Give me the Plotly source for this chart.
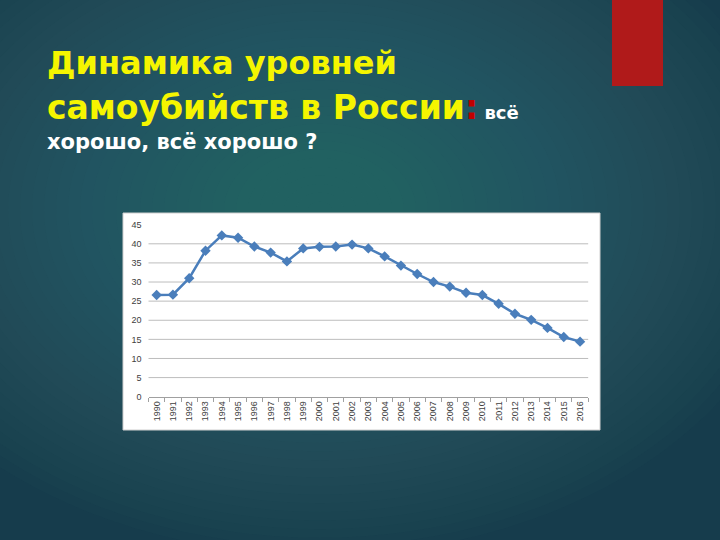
import plotly.graph_objects as go

years = [str(y) for y in range(1990, 2017)]
rates = [26.6, 26.7, 31.0, 38.2, 42.2, 41.6, 39.3, 37.7, 35.4, 38.8, 39.2, 39.3, 39.8,
         38.8, 36.7, 34.3, 32.1, 30.0, 28.8, 27.2, 26.6, 24.3, 21.7, 20.1, 18.0, 15.6, 14.4]
y_ticks = [0, 5, 10, 15, 20, 25, 30, 35, 40, 45]

W, H = 720, 540

def px(x):
    return x / W

def py(y):
    return 1 - y / H

fig = go.Figure()
fig.add_trace(go.Scatter(
    x=years, y=rates, mode="lines+markers",
    line=dict(color="#4a7ebb", width=2.5),
    marker=dict(symbol="diamond", size=8, color="#4a7ebb"),
    showlegend=False, hoverinfo="x+y",
))

shapes = []
# radial glow background
N = 40
cx, cy = 320, 210
for k in range(N, 0, -1):
    rx, ry = 480 * k / N, 345 * k / N
    shapes.append(dict(type="circle", xref="paper", yref="paper",
                       x0=px(cx - rx), x1=px(cx + rx), y0=py(cy + ry), y1=py(cy - ry),
                       fillcolor="rgb(55,138,115)", opacity=0.033, line=dict(width=0),
                       layer="below"))
# red block
shapes.append(dict(type="rect", xref="paper", yref="paper",
                   x0=px(612), x1=px(663), y0=py(86), y1=py(-2),
                   fillcolor="#b01a1a", line=dict(width=0), layer="below"))
# white chart panel
shapes.append(dict(type="rect", xref="paper", yref="paper",
                   x0=px(123), x1=px(600), y0=py(430), y1=py(213),
                   fillcolor="white", line=dict(color="#cfcfcf", width=1), layer="below"))
# horizontal gridlines (none at the top value, as in the original)
for t in y_ticks[1:-1]:
    shapes.append(dict(type="line", xref="x domain", yref="y", x0=0, x1=1, y0=t, y1=t,
                       line=dict(color="#bdbdbd", width=1), layer="below"))

title_font = "DejaVu Sans"
yellow = "#f5f500"
annotations = [
    dict(text="<b>Динамика уровней</b>", x=px(45), y=py(63), xref="paper", yref="paper",
         xanchor="left", yanchor="middle", showarrow=False,
         font=dict(family=title_font, size=32, color=yellow)),
    dict(text="<b>самоубийств в России</b><span style='color:#c00000'><b>:</b></span>"
              "<span style='color:white;font-size:18px'><b> всё</b></span>",
         x=px(45), y=py(108), xref="paper", yref="paper",
         xanchor="left", yanchor="middle", showarrow=False,
         font=dict(family=title_font, size=33, color=yellow)),
    dict(text="<b>хорошо, всё хорошо ?</b>", x=px(45), y=py(142), xref="paper", yref="paper",
         xanchor="left", yanchor="middle", showarrow=False,
         font=dict(family=title_font, size=21, color="white")),
]

fig.update_layout(
    width=W, height=H, autosize=False,
    margin=dict(l=0, r=0, t=0, b=0),
    paper_bgcolor="#163c4c", plot_bgcolor="white",
    shapes=shapes, annotations=annotations,
    xaxis=dict(domain=[px(148.5), px(588.2)], type="category", range=[-0.5, 26.5],
               tickangle=-90, tickfont=dict(family="Liberation Sans", size=9, color="#404040"),
               showgrid=False, showline=True, linecolor="#a0a0a0", linewidth=1,
               ticks="outside", ticklen=4, tickcolor="#a0a0a0", tickson="boundaries",
               anchor="y", fixedrange=True, automargin=False),
    yaxis=dict(domain=[py(396.7), py(224.7)], range=[0, 45], tickvals=y_ticks,
               tickfont=dict(family="Liberation Sans", size=9, color="#404040"),
               showgrid=False, zeroline=False,
               showline=False, ticks="", ticklabelstandoff=6, anchor="x",
               fixedrange=True, automargin=False),
)

fig.write_html("out.html", config={"displayModeBar": False},
               post_script="document.body.style.margin='0';document.body.style.overflow='hidden';")
